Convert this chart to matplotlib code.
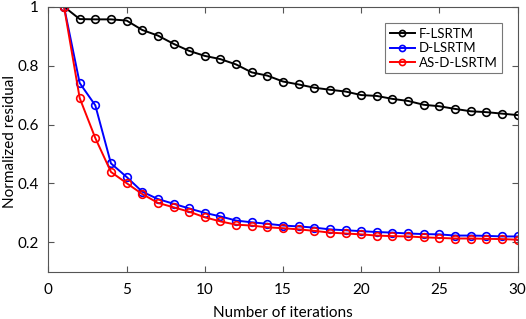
import numpy as np
import matplotlib.pyplot as plt
from matplotlib.ticker import FuncFormatter

iters = np.arange(1, 31)
f_lsrtm = [1.0, 0.958, 0.957, 0.957, 0.953, 0.921, 0.902, 0.874, 0.850, 0.833,
           0.822, 0.804, 0.777, 0.766, 0.746, 0.736, 0.725, 0.718, 0.712, 0.700,
           0.697, 0.687, 0.680, 0.667, 0.662, 0.653, 0.645, 0.642, 0.637, 0.632]
d_lsrtm = [1.0, 0.741, 0.665, 0.468, 0.422, 0.372, 0.347, 0.331, 0.315, 0.300,
           0.288, 0.274, 0.268, 0.263, 0.257, 0.254, 0.250, 0.244, 0.241, 0.238,
           0.235, 0.233, 0.230, 0.228, 0.227, 0.223, 0.223, 0.222, 0.220, 0.220]
asd_lsrtm = [1.0, 0.690, 0.554, 0.439, 0.401, 0.364, 0.334, 0.319, 0.304, 0.285,
             0.271, 0.260, 0.257, 0.251, 0.248, 0.244, 0.239, 0.233, 0.230, 0.227,
             0.223, 0.221, 0.220, 0.217, 0.215, 0.213, 0.213, 0.212, 0.211, 0.209]

plt.rcParams['font.family'] = 'Lato'

fig = plt.figure(figsize=(5.26, 3.19), dpi=100)
ax = fig.add_axes([0.092, 0.148, 0.892, 0.831])

style = dict(marker='o', markersize=5.5, markerfacecolor='none', linewidth=1.4, markeredgewidth=1.2)
ax.plot(iters, f_lsrtm, color='black', label='F-LSRTM', **style)
ax.plot(iters, d_lsrtm, color='blue', label='D-LSRTM', **style)
ax.plot(iters, asd_lsrtm, color='red', label='AS-D-LSRTM', **style)

ax.set_xlim(0, 30)
ax.set_ylim(0.1, 1.0)
ax.set_xticks([0, 5, 10, 15, 20, 25, 30])
ax.set_yticks([0.2, 0.4, 0.6, 0.8, 1.0])
ax.yaxis.set_major_formatter(FuncFormatter(lambda v, p: f'{v:g}'))
ax.tick_params(direction='in', top=True, right=True, labelsize=11, length=4,
               color='#555555', width=0.8)
ax.tick_params(axis='x', pad=8)
ax.tick_params(axis='y', pad=7)
for s in ax.spines.values():
    s.set_color('#555555')
    s.set_linewidth(0.8)

ax.set_xlabel('Number of iterations', fontsize=11, labelpad=6.5)
ax.set_ylabel('Normalized residual', fontsize=11, va='center')
ax.yaxis.set_label_coords(-0.082, 0.493)

leg = ax.legend(loc='upper right', fontsize=9.5, fancybox=False, edgecolor='#777777',
                handlelength=1.9, handletextpad=0.3, borderpad=0.35, labelspacing=0.18,
                markerscale=0.8, bbox_to_anchor=(0.981, 0.962), framealpha=1)
leg.get_frame().set_linewidth(0.8)

fig.savefig('out.png', dpi=100)
